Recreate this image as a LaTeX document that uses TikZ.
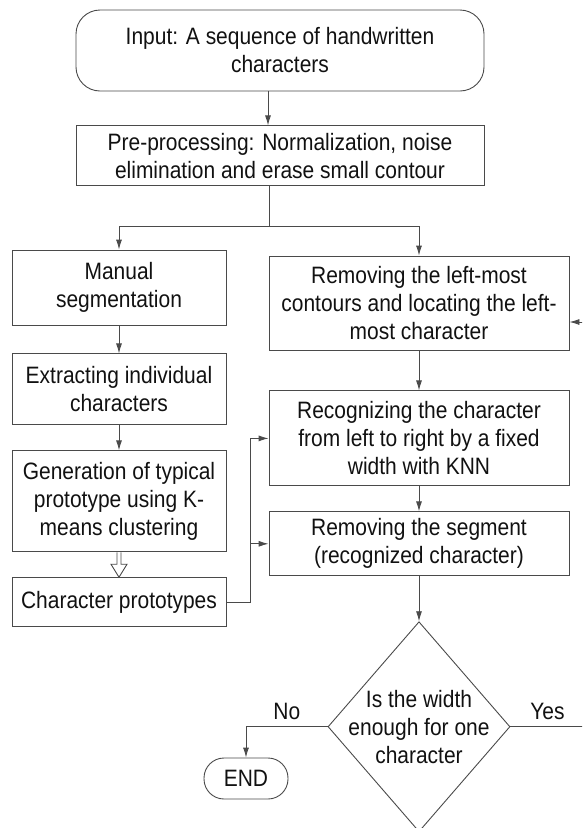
\documentclass[tikz,border=0pt]{standalone}
\usepackage{fontspec}
\setmainfont{Liberation Sans}[FakeStretch=0.885]
\usetikzlibrary{calc}
\usetikzlibrary{positioning}
\usetikzlibrary{shapes.geometric}
\usetikzlibrary{arrows.meta}
\definecolor{lineGray}{HTML}{4a4a4a}
\definecolor{textBlack}{HTML}{111111}
\tikzset{
    box/.style={rectangle, draw=lineGray, line width=0.9pt},
    decision/.style={diamond, draw=lineGray, line width=0.9pt},
    arr/.style={draw=lineGray, line width=0.9pt, -{Latex[length=10pt, width=6pt]}},
    wire/.style={draw=lineGray, line width=0.9pt},
}

\begin{document}
\begin{tikzpicture}[x=1pt, y=1pt, inner sep=0pt, align=center, text=textBlack, font=\fontsize{23.7}{28}\selectfont]
    \pgfmathsetmacro{\leftW}{214}
    \pgfmathsetmacro{\rightW}{300}
    \pgfmathsetmacro{\topW}{408}

    \useasboundingbox (0,0) rectangle (582,-828);
    \clip (0,0) rectangle (582,-828);

    \node (input) [box, rounded corners=24pt, minimum width=\topW, minimum height=81] at (280,-50.5) {Input: A sequence of handwritten\\characters};
    \node (prep) [box, minimum width=\topW, minimum height=60, below=34pt of input] {Pre-processing: Normalization, noise\\elimination and erase small contour};

    % left column
    \node (manual) [box, minimum width=\leftW, minimum height=75] at (119,-287.5) {Manual\\segmentation};
    \node (extract) [box, minimum width=\leftW, minimum height=71, below=28pt of manual] {Extracting individual\\characters};
    \node (gen) [box, minimum width=\leftW, minimum height=101, below=25pt of extract] {Generation of typical\\prototype using K-\\means clustering};
    \node (proto) [box, minimum width=\leftW, minimum height=49, below=25pt of gen] {Character prototypes};

    % right column
    \node (remove) [box, minimum width=\rightW, minimum height=94] at (419,-303) {Removing the left-most\\contours and locating the left-\\most character};
    \node (recog) [box, minimum width=\rightW, minimum height=95, below=40pt of remove] {Recognizing the character\\from left to right by a fixed\\width with KNN};
    \node (remseg) [box, minimum width=\rightW, minimum height=64, below=25pt of recog] {Removing the segment\\(recognized character)};
    \node (check) [decision, minimum width=182, minimum height=210, below=45pt of remseg, label={[align=center]center:Is the width\\enough for one\\character}] {};
    \node (stop) [box, rounded corners=20pt, minimum width=84, minimum height=41] at (246,-778.5) {END};

    \draw [arr] ([xshift=-12pt]input.south) -- ([xshift=-12pt]input.south |- prep.north);
    \coordinate (split) at ($(prep.south)+(-11pt,-40pt)$);
    \draw [wire] (split |- prep.south) -- (split);
    \draw [arr] (split) -| (manual.north);
    \draw [arr] (split) -| (remove.north);

    \draw [arr] (manual) -- (extract);
    \draw [arr] (extract) -- (gen);
    % hollow arrow
    \draw [wire, fill=white] ($(gen.south)+(-2,0)$) -- ++(0,-12) -- ++(-6,0) -- (proto.north) -- ++(8,13) -- ++(-6,0) -- ($(gen.south)+(2,0)$);

    \draw [arr] (remove) -- (recog);
    \draw [arr] (recog) -- (remseg);
    \coordinate (join) at ($(proto.east)+(24pt,0)$);
    \draw [arr] (proto.east) -- (join) |- (recog.west);
    \draw [arr] (join |- remseg.west) -- (remseg.west);
    \draw [arr] (remseg) -- (check);

    \draw [arr] (check.west) -| node[pos=0.25, above=7pt] {No} (stop.north);
    \coordinate (loop) at ($(check.east)+(74pt,0)$);
    \draw [arr] (check.east) -- node[above=7pt] {Yes} (loop) |- ([yshift=-19pt]remove.east);
\end{tikzpicture}
\end{document}
